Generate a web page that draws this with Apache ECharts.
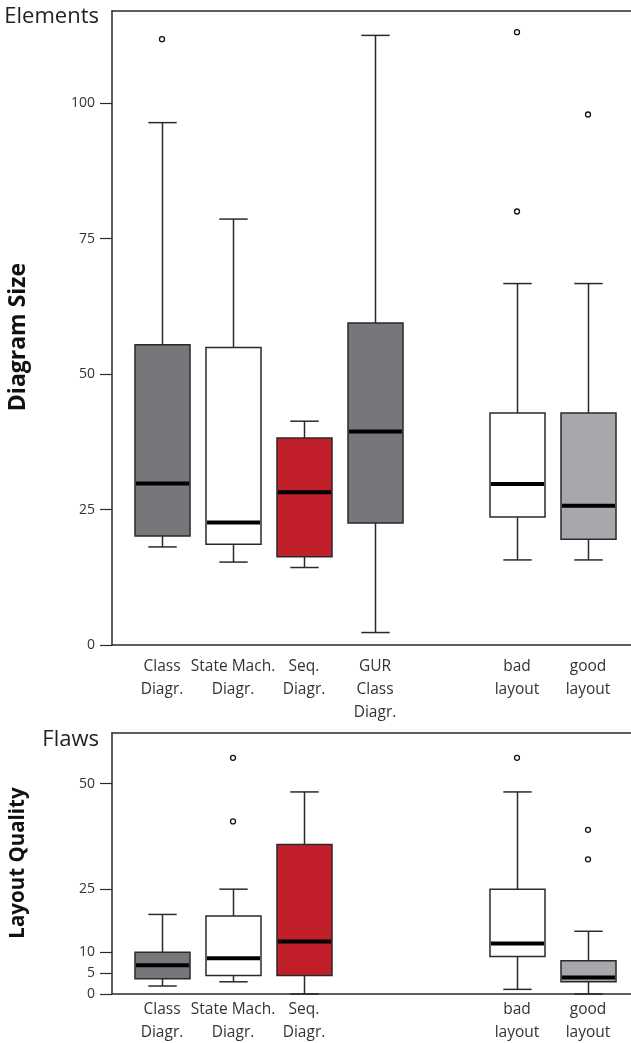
<!DOCTYPE html>
<html><head><meta charset="utf-8">
<script src="https://cdn.jsdelivr.net/npm/echarts@6/dist/echarts.min.js"></script>
<style>html,body{margin:0;padding:0;background:#fff}#c{width:631px;height:1043px}</style>
</head><body><div id="c"></div>
<script>
// ---- data ----
const categoriesTop = ['Class\nDiagr.', 'State Mach.\nDiagr.', 'Seq.\nDiagr.', 'GUR\nClass\nDiagr.', '', 'bad\nlayout', 'good\nlayout'];
// [lower whisker, q1, median, q3, upper whisker]
const sizeBoxes = [
  [18.1, 20.1, 29.8, 55.4, 96.4],
  [15.3, 18.6, 22.6, 54.9, 78.6],
  [14.3, 16.3, 28.2, 38.2, 41.3],
  [2.3, 22.5, 39.4, 59.4, 112.5],
  null,
  [15.7, 23.6, 29.7, 42.8, 66.7],
  [15.7, 19.5, 25.7, 42.8, 66.7]
];
const sizeOutliers = [[0, 111.8], [5, 113.1], [5, 80.0], [6, 97.9]];
const sizeTicks = [0, 25, 50, 75, 100];

const categoriesBottom = ['Class\nDiagr.', 'State Mach.\nDiagr.', 'Seq.\nDiagr.', '', '', 'bad\nlayout', 'good\nlayout'];
const flawBoxes = [
  [1.9, 3.6, 6.8, 9.9, 18.9],
  [2.9, 4.4, 8.5, 18.5, 24.9],
  [0, 4.4, 12.5, 35.5, 48.0],
  null,
  null,
  [1.1, 8.9, 12.0, 24.9, 48.0],
  [0, 2.9, 3.9, 7.9, 14.9]
];
const flawOutliers = [[1, 56.1], [1, 41.0], [5, 56.1], [6, 39.0], [6, 32.0]];
const flawTicks = [0, 5, 10, 25, 50];

// ---- styles ----
const DARK = '#76777b', LIGHT = '#a7a8ab', RED = '#c1202a', WHITE = '#ffffff';
const topColors = [DARK, WHITE, RED, DARK, WHITE, WHITE, LIGHT];
const bottomColors = [DARK, WHITE, RED, WHITE, WHITE, WHITE, LIGHT];
const LINE = '#2a2a2a';
const FONT = '"Open Sans", sans-serif';

function boxData(boxes, colors) {
  const out = [];
  boxes.forEach((b, i) => {
    if (!b) return;
    out.push({ value: [i].concat(b), itemStyle: { color: colors[i] } });
  });
  return out;
}

function renderBox(params, api) {
  const i = api.value(0);
  const lo = api.coord([i, api.value(1)]);
  const q1 = api.coord([i, api.value(2)]);
  const md = api.coord([i, api.value(3)]);
  const q3 = api.coord([i, api.value(4)]);
  const hi = api.coord([i, api.value(5)]);
  const slot = api.size([1, 0])[0];
  const bw = slot * 0.775, cw = slot * 0.4;
  const x = Math.round(lo[0]) + 0.5;
  const ls = { stroke: LINE, lineWidth: 1.5 };
  return {
    type: 'group',
    children: [
      { type: 'line', shape: { x1: x, y1: hi[1], x2: x, y2: q3[1] }, style: ls },
      { type: 'line', shape: { x1: x, y1: q1[1], x2: x, y2: lo[1] }, style: ls },
      { type: 'line', shape: { x1: x - cw / 2, y1: hi[1], x2: x + cw / 2, y2: hi[1] }, style: ls },
      { type: 'line', shape: { x1: x - cw / 2, y1: lo[1], x2: x + cw / 2, y2: lo[1] }, style: ls },
      { type: 'rect', shape: { x: x - bw / 2, y: q3[1], width: bw, height: q1[1] - q3[1] },
        style: { fill: api.visual('color'), stroke: LINE, lineWidth: 1.5 } },
      { type: 'line', shape: { x1: x - bw / 2 + 1, y1: md[1], x2: x + bw / 2 - 1, y2: md[1] },
        style: { stroke: '#000', lineWidth: 4 } }
    ]
  };
}

const TOP = { top: 11, height: 634, max: 117 };
const BOT = { top: 733, height: 261, max: 62 };

function frameYAxis(gi, max, ticks) {
  return {
    type: 'value', gridIndex: gi, min: 0, max: max,
    axisLine: { show: true, lineStyle: { color: LINE, width: 1.5 } },
    axisTick: { show: true, length: 12, customValues: ticks, lineStyle: { color: LINE, width: 1.2 } },
    axisLabel: { show: true, customValues: ticks, margin: 17, fontFamily: FONT, fontSize: 14, color: '#333' },
    splitLine: { show: false }
  };
}
function plotYAxis(gi, max) {
  return { type: 'value', gridIndex: gi, min: 0, max: max, show: false, splitLine: { show: false } };
}
function plotXAxis(gi, cats, margin) {
  return {
    type: 'category', gridIndex: gi, data: cats, boundaryGap: true,
    axisLine: { show: false }, axisTick: { show: false },
    axisLabel: { interval: 0, margin: margin, fontFamily: FONT, fontSize: 15.5, lineHeight: 23, color: '#333' }
  };
}
function frameXAxis(gi, pos) {
  return { type: 'value', gridIndex: gi, position: pos, min: 0, max: 1,
    axisLine: { show: true, onZero: false, lineStyle: { color: LINE, width: 1.5 } },
    axisTick: { show: false }, axisLabel: { show: false }, splitLine: { show: false } };
}
function frameGrid(cfg) {
  return { left: 112, right: 0, top: cfg.top, height: cfg.height, show: false, outerBoundsMode: 'none', containLabel: false };
}
function plotGrid(cfg) {
  return { left: 126.5, right: 7.5, top: cfg.top, height: cfg.height, outerBoundsMode: 'none', containLabel: false };
}

const chart = echarts.init(document.getElementById('c'), null, { renderer: 'canvas' });
chart.setOption({
  animation: false,
  backgroundColor: '#fff',
  grid: [frameGrid(TOP), plotGrid(TOP), frameGrid(BOT), plotGrid(BOT)],
  xAxis: [
    frameXAxis(0, 'bottom'), frameXAxis(0, 'top'), plotXAxis(1, categoriesTop, 10),
    frameXAxis(2, 'bottom'), frameXAxis(2, 'top'), plotXAxis(3, categoriesBottom, 4)
  ],
  yAxis: [frameYAxis(0, TOP.max, sizeTicks), plotYAxis(1, TOP.max), frameYAxis(2, BOT.max, flawTicks), plotYAxis(3, BOT.max)],
  series: [
    { type: 'custom', xAxisIndex: 2, yAxisIndex: 1, renderItem: renderBox, clip: false,
      encode: { x: 0, y: [1, 2, 3, 4, 5] }, data: boxData(sizeBoxes, topColors) },
    { type: 'scatter', xAxisIndex: 2, yAxisIndex: 1, symbol: 'circle', symbolSize: 5,
      itemStyle: { color: '#fff', borderColor: '#111', borderWidth: 1.3, opacity: 1 }, data: sizeOutliers },
    { type: 'custom', xAxisIndex: 5, yAxisIndex: 3, renderItem: renderBox, clip: false,
      encode: { x: 0, y: [1, 2, 3, 4, 5] }, data: boxData(flawBoxes, bottomColors) },
    { type: 'scatter', xAxisIndex: 5, yAxisIndex: 3, symbol: 'circle', symbolSize: 5,
      itemStyle: { color: '#fff', borderColor: '#111', borderWidth: 1.3, opacity: 1 }, data: flawOutliers }
  ],
  graphic: [
    { type: 'text', x: 99, y: 17, style: { text: 'Elements', font: '22px ' + FONT, fill: '#222', textAlign: 'right', textVerticalAlign: 'middle' } },
    { type: 'text', x: 99, y: 740, style: { text: 'Flaws', font: '22px ' + FONT, fill: '#222', textAlign: 'right', textVerticalAlign: 'middle' } },
    { type: 'text', x: 18, y: 337, rotation: Math.PI / 2, style: { text: 'Diagram Size', font: 'bold 23px ' + FONT, fill: '#111', textAlign: 'center', textVerticalAlign: 'middle' } },
    { type: 'text', x: 18, y: 863, rotation: Math.PI / 2, style: { text: 'Layout Quality', font: 'bold 20.5px ' + FONT, fill: '#111', textAlign: 'center', textVerticalAlign: 'middle' } }
  ]
});
</script>
</body></html>
